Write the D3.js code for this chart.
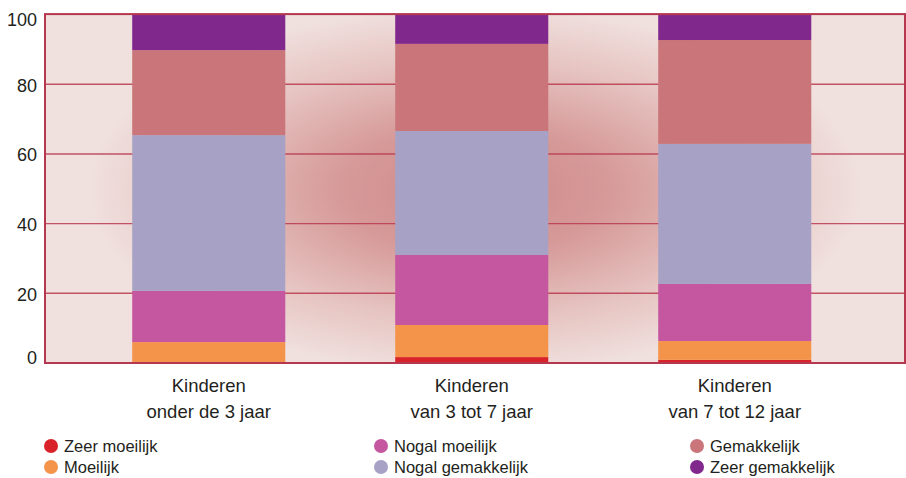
<!DOCTYPE html>
<html><head><meta charset="utf-8">
<script src="https://cdn.jsdelivr.net/npm/d3@7"></script>
<style>
body{margin:0;background:#fff;}
text{font-family:"Liberation Sans",Arial,sans-serif;fill:#231f20;}
</style></head><body>
<svg id="c" width="906" height="478"></svg>
<script>
const categories = [["Kinderen","onder de 3 jaar"],["Kinderen","van 3 tot 7 jaar"],["Kinderen","van 7 tot 12 jaar"]];
const seriesNames = ["Zeer moeilijk","Moeilijk","Nogal moeilijk","Nogal gemakkelijk","Gemakkelijk","Zeer gemakkelijk"];
const zeerMoeilijk     = [0.0, 1.7, 0.9];
const moeilijk         = [6.0, 9.2, 5.4];
const nogalMoeilijk    = [14.7, 20.1, 16.4];
const nogalGemakkelijk = [44.7, 35.6, 40.2];
const gemakkelijk      = [24.4, 25.0, 29.8];
const zeerGemakkelijk  = [10.2, 8.4, 7.3];
const yTicks = [0,20,40,60,80,100];
const colors = ["#d8232a","#f4944a","#c557a0","#a7a1c5","#c97579","#81288d"];

const seriesVals = [zeerMoeilijk, moeilijk, nogalMoeilijk, nogalGemakkelijk, gemakkelijk, zeerGemakkelijk];
const rows = categories.map((c,i)=>{
  const o = {key:i};
  seriesNames.forEach((s,j)=>o[s]=seriesVals[j][i]);
  return o;
});
const stacked = d3.stack().keys(seriesNames)(rows);

const svg = d3.select("#c");
const L=45, R=905, T=14.6, B=363;
const x = d3.scaleBand().domain(d3.range(categories.length)).range([L,R])
  .paddingInner(0.418).paddingOuter(0.344).align(0.482);
const y = d3.scaleLinear().domain([0,100]).range([B,T]);

const defs = svg.append("defs");
const g = defs.append("radialGradient").attr("id","bg").attr("gradientUnits","userSpaceOnUse")
  .attr("cx",0).attr("cy",0).attr("r",1).attr("gradientTransform","translate(475,190) scale(390,185)");
[[0,"#cf8888"],[0.35,"#d69a99"],[0.7,"#e6c4c1"],[1,"#f0e1df"]].forEach(s=>g.append("stop").attr("offset",s[0]).attr("stop-color",s[1]));

svg.append("rect").attr("x",L).attr("y",T).attr("width",R-L).attr("height",B-T).attr("fill","#f0e1df");
svg.append("rect").attr("x",L).attr("y",T).attr("width",R-L).attr("height",B-T).attr("fill","url(#bg)");

// gridlines
svg.append("g").selectAll("line").data(yTicks.filter(t=>t>0&&t<100)).join("line")
  .attr("x1",L).attr("x2",R).attr("y1",d=>y(d)).attr("y2",d=>y(d))
  .attr("stroke","#b8394f").attr("stroke-width",1.4).attr("stroke-opacity",0.85);

// bars
svg.append("g").selectAll("g").data(stacked).join("g").attr("fill",(d,i)=>colors[i])
  .selectAll("rect").data(d=>d).join("rect")
  .attr("x",(d,i)=>x(i)).attr("width",x.bandwidth())
  .attr("y",d=>y(d[1])).attr("height",d=>y(d[0])-y(d[1]));

// border
svg.append("rect").attr("x",L).attr("y",T-0.5).attr("width",R-L).attr("height",B-T+0.5)
  .attr("fill","none").attr("stroke","#b5384f").attr("stroke-width",2);

// y axis labels
const yAxis = d3.axisLeft(y).tickValues(yTicks).tickSize(0).tickPadding(8);
const ya = svg.append("g").attr("transform",`translate(${L},0)`).call(yAxis);
ya.select(".domain").remove();
ya.selectAll("text").style("font-size","18px").style("font-family","'Liberation Sans',Arial,sans-serif").attr("fill","#231f20")
  .attr("dy",d=>d===100?"0.6em":d===0?"0.05em":"0.38em");

// category labels
const xa = svg.append("g");
categories.forEach((c,i)=>{
  const cx = x(i)+x.bandwidth()/2;
  const t = xa.append("text").attr("text-anchor","middle").style("font-size","18.5px");
  t.append("tspan").attr("x",cx).attr("y",392).text(c[0]);
  t.append("tspan").attr("x",cx).attr("y",418).text(c[1]);
});

// legend
const legX = [51,381,697];
const leg = svg.append("g");
seriesNames.forEach((s,i)=>{
  const col = Math.floor(i/2), row = i%2;
  const cy = 446 + row*21;
  leg.append("circle").attr("cx",legX[col]).attr("cy",cy).attr("r",7).attr("fill",colors[i]);
  leg.append("text").attr("x",legX[col]+13).attr("y",cy+6).style("font-size","16.5px").text(s);
});
</script></body></html>
